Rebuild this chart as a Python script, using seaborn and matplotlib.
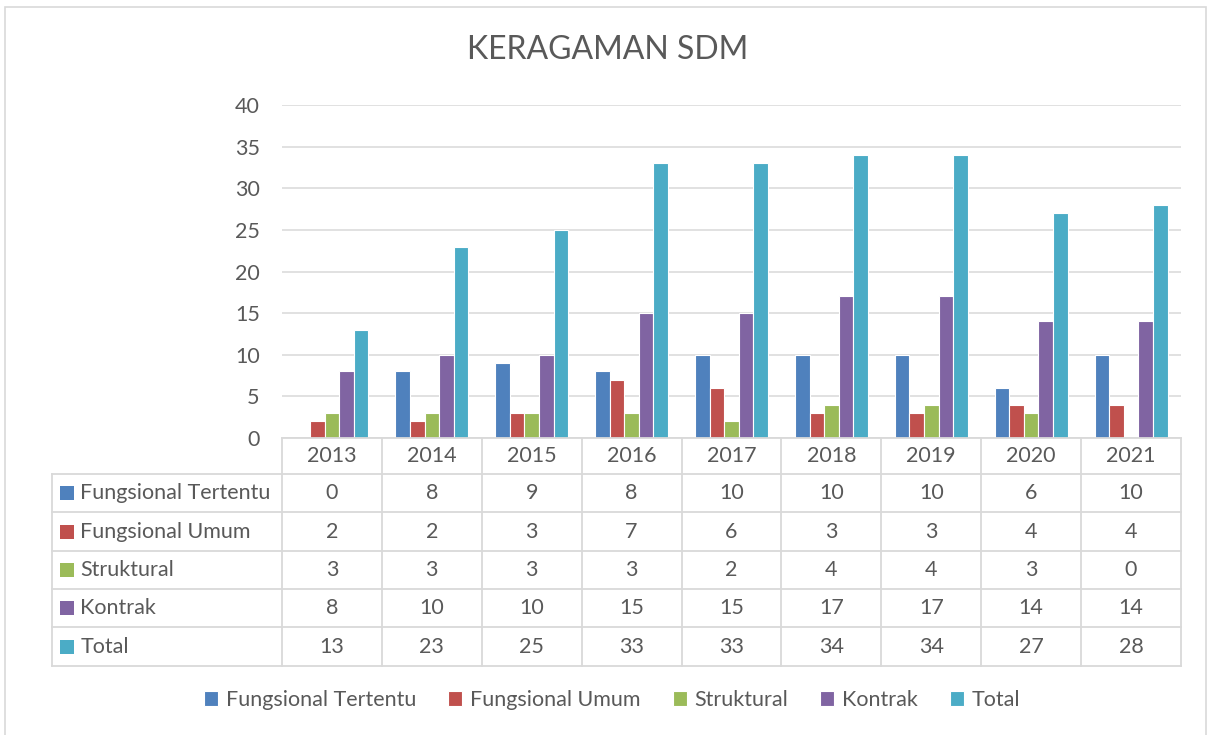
import pandas as pd
import seaborn as sns
import matplotlib.pyplot as plt
from matplotlib.patches import Rectangle

# chart data
years = ['2013', '2014', '2015', '2016', '2017', '2018', '2019', '2020', '2021']
series_names = ['Fungsional Tertentu', 'Fungsional Umum', 'Struktural', 'Kontrak', 'Total']
fungsional_tertentu = [0, 8, 9, 8, 10, 10, 10, 6, 10]
fungsional_umum = [2, 2, 3, 7, 6, 3, 3, 4, 4]
struktural = [3, 3, 3, 3, 2, 4, 4, 3, 0]
kontrak = [8, 10, 10, 15, 15, 17, 17, 14, 14]
total = [13, 23, 25, 33, 33, 34, 34, 27, 28]
colors = ['#4F81BD', '#C0504D', '#9BBB59', '#8064A2', '#4BACC6']

# long format table for seaborn
wide = pd.DataFrame({'Tahun': years,
                     'Fungsional Tertentu': fungsional_tertentu,
                     'Fungsional Umum': fungsional_umum,
                     'Struktural': struktural,
                     'Kontrak': kontrak,
                     'Total': total})
df = wide.melt(id_vars='Tahun', var_name='Kategori', value_name='Jumlah')

sns.set_theme(style="white")
plt.rcParams['font.family'] = ['Lato', 'DejaVu Sans']
text_col = '#595959'
line_col = '#D9D9D9'
fs = 15.5

fig = plt.figure(figsize=(12.1, 7.35), dpi=100)
ax = fig.add_axes([282 / 1210, 1 - 438 / 735, 899 / 1210, 333 / 735])

sns.barplot(data=df, x='Tahun', y='Jumlah', hue='Kategori', hue_order=series_names,
            palette=colors, saturation=1, width=0.73, edgecolor='white', linewidth=0.8, ax=ax)

ax.set_xlim(-0.5, len(years) - 0.5)
ax.set_ylim(0, 40)
ax.set_yticks(range(0, 41, 5))
ax.yaxis.grid(True, color=line_col, linewidth=1.1)
ax.set_axisbelow(True)
ax.tick_params(axis='y', length=0, pad=16, labelsize=fs, labelcolor=text_col)
ax.set_xticks([])
ax.set_xlabel('')
ax.set_ylabel('')
for s in ax.spines.values():
    s.set_visible(False)

# data table under the plot
trans = ax.get_xaxis_transform()
px = 1 / 333  # one pixel in axes fraction
row_lines = [438, 474, 512, 551, 589, 627, 666]
y_ax = [(438 - r) * px for r in row_lines]
left_x = -0.5 - 230 / 100
right_x = len(years) - 0.5
lw = 1.3
kw = dict(transform=trans, color=line_col, linewidth=lw, clip_on=False, solid_capstyle='projecting')

# horizontal lines
ax.plot([-0.5, right_x], [y_ax[0], y_ax[0]], **kw)
for y in y_ax[1:]:
    ax.plot([left_x, right_x], [y, y], **kw)
# vertical lines
ax.plot([left_x, left_x], [y_ax[1], y_ax[-1]], **kw)
for i in range(len(years) + 1):
    ax.plot([i - 0.5, i - 0.5], [y_ax[0], y_ax[-1]], **kw)

# header row
hy = (y_ax[0] + y_ax[1]) / 2
for i, yr in enumerate(years):
    ax.text(i, hy, yr, transform=trans, ha='center', va='center', fontsize=fs, color=text_col)

# series rows
series_vals = [fungsional_tertentu, fungsional_umum, struktural, kontrak, total]
for r, (name, vals, c) in enumerate(zip(series_names, series_vals, colors)):
    cy = (y_ax[r + 1] + y_ax[r + 2]) / 2
    ax.add_patch(Rectangle((-0.5 - 222 / 100, cy - 7 * px), 0.14, 14 * px,
                           transform=trans, facecolor=c, edgecolor='none', clip_on=False))
    ax.text(-0.5 - 202 / 100, cy, name, transform=trans, ha='left', va='center',
            fontsize=fs, color=text_col)
    for i, v in enumerate(vals):
        ax.text(i, cy, str(v), transform=trans, ha='center', va='center',
                fontsize=fs, color=text_col)

# legend at the bottom, centred on the figure
sns.move_legend(ax, 'center', bbox_to_anchor=((612 - 282) / 899, (438 - 700) * px), ncol=5,
                frameon=False, title=None, fontsize=fs, handlelength=0.65, handleheight=0.65,
                handletextpad=0.35, columnspacing=1.5)
for t in ax.get_legend().get_texts():
    t.set_color(text_col)

# title and chart border
fig.text(608 / 1210, 1 - 50 / 735, 'KERAGAMAN SDM', ha='center', va='center',
         fontsize=23, color=text_col)
fig.patches.append(Rectangle((5 / 1210, -0.05), 1201 / 1210, 1.05 - 7 / 735,
                             transform=fig.transFigure, fill=False, edgecolor=line_col,
                             linewidth=1.2))

fig.savefig('out.png', dpi=100)
